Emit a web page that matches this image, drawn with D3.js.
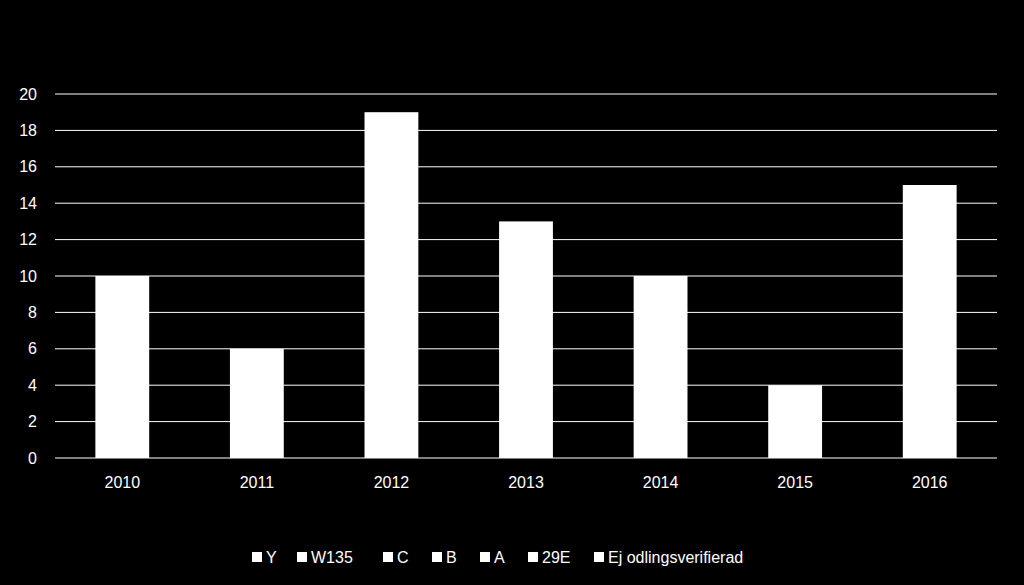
<!DOCTYPE html>
<html><head><meta charset="utf-8">
<script src="https://cdn.jsdelivr.net/npm/d3@7"></script>
<style>body{margin:0;background:#000}svg{display:block}</style>
</head><body>
<div id="chart"></div>
<script>
const years = ['2010','2011','2012','2013','2014','2015','2016'];
const totals = [10, 6, 19, 13, 10, 4, 15];
const legendLabels = ['Y','W135','C','B','A','29E','Ej odlingsverifierad'];
const yTicks = [0,2,4,6,8,10,12,14,16,18,20];

const w = 1024, h = 585,
	margin = {top:94, right:27, bottom:127, left:55};

const svg = d3.select('#chart').append('svg')
	.attr('width', w).attr('height', h)
	.style('font-family', 'Liberation Sans, Arial, sans-serif');
svg.append('rect').attr('width', w).attr('height', h).attr('fill', '#000');

const x = d3.scaleBand().domain(years).range([margin.left, w - margin.right]).paddingInner(0.6).paddingOuter(0.3);
const y = d3.scaleLinear().domain([0, 20]).range([h - margin.bottom, margin.top]);

// gridlines
svg.append('g').selectAll('line').data(yTicks).join('line')
	.attr('x1', margin.left).attr('x2', w - margin.right)
	.attr('y1', d => y(d)).attr('y2', d => y(d))
	.attr('stroke', '#fff').attr('stroke-width', 1);

// y labels
svg.append('g').selectAll('text').data(yTicks).join('text')
	.attr('x', margin.left - 18).attr('y', d => y(d)).attr('dy', '0.35em')
	.attr('text-anchor', 'end').attr('fill', '#fff').attr('font-size', 16)
	.text(d => d);

// bars
svg.append('g').selectAll('rect').data(totals).join('rect')
	.attr('x', (d, i) => x(years[i])).attr('width', x.bandwidth())
	.attr('y', d => y(d)).attr('height', d => y(0) - y(d))
	.attr('fill', '#fff');

// x labels
svg.append('g').selectAll('text').data(years).join('text')
	.attr('x', d => x(d) + x.bandwidth() / 2).attr('y', y(0) + 30)
	.attr('text-anchor', 'middle').attr('fill', '#fff').attr('font-size', 16)
	.text(d => d);

// legend
const legX = [252, 297, 383, 432, 480, 528, 594];
const leg = svg.append('g').selectAll('g').data(legendLabels).join('g')
	.attr('transform', (d, i) => `translate(${legX[i]},557)`);
leg.append('rect').attr('x', 0).attr('y', -5).attr('width', 10).attr('height', 10).attr('fill', '#fff');
leg.append('text').attr('x', 14).attr('dy', '0.35em').attr('fill', '#fff').attr('font-size', 16).text(d => d);
</script>
</body></html>
